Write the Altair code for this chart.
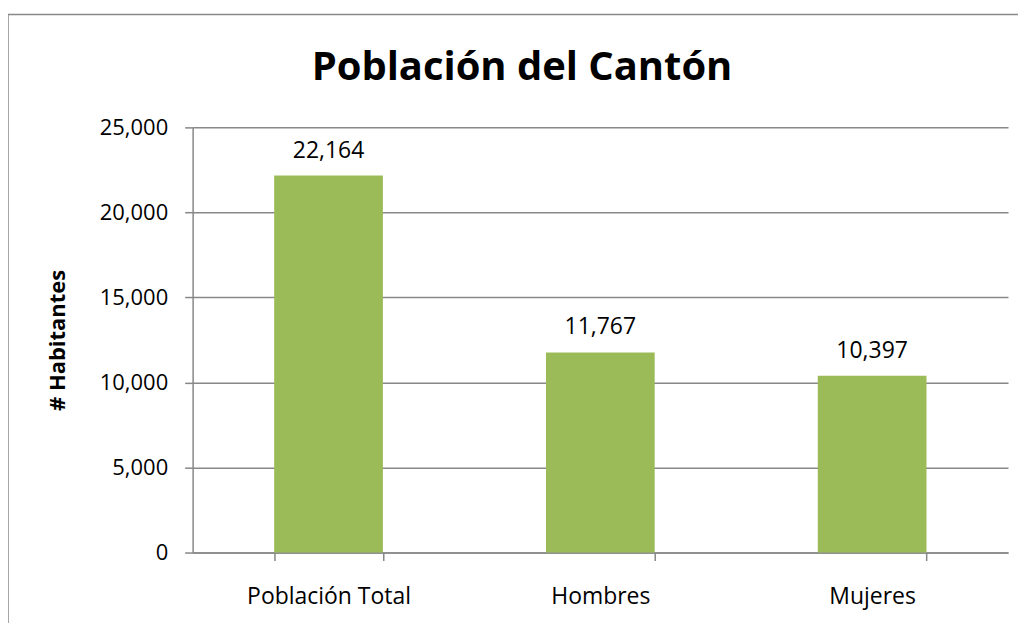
import altair as alt
import pandas as pd

categories = ["Población Total", "Hombres", "Mujeres"]
values = [22164, 11767, 10397]
y_ticks = [0, 5000, 10000, 15000, 20000, 25000]
title_text = "Población del Cantón"
y_title = "# Habitantes"

df = pd.DataFrame({"cat": categories, "val": values})

FONT = "Open Sans"
GRAY = "#888888"

base = alt.Chart(df)

x_enc = alt.X("cat:N", sort=categories, title=None,
              scale=alt.Scale(paddingInner=0.6, paddingOuter=0.3),
              axis=alt.Axis(labelAngle=0, labelFontSize=23, labelFont=FONT, labelColor="black",
                            labelPadding=25, tickBand="extent", tickSize=8, tickColor=GRAY,
                            tickWidth=1.5, domainColor=GRAY, domainWidth=1.5, grid=False))

y_enc = alt.Y("val:Q", title=y_title,
              scale=alt.Scale(domain=[0, 25000], nice=False),
              axis=alt.Axis(values=y_ticks, format=",.0f",
                            labelFontSize=22, labelFont=FONT, labelColor="black", labelPadding=17,
                            tickSize=8, tickColor=GRAY, tickWidth=1.5, domainColor=GRAY,
                            domainWidth=1.5, gridColor=GRAY, gridWidth=1.5,
                            titleFont=FONT, titleFontSize=22, titleFontWeight="bold",
                            titleColor="black", titleAngle=270, titleX=-135, titleY=213,
                            titleAlign="center", titleBaseline="middle"))

bars = base.mark_bar(color="#9BBB59").encode(x=x_enc, y=y_enc)

labels = base.mark_text(font=FONT, fontSize=23, color="black", baseline="alphabetic", dy=-18).encode(
    x=x_enc,
    y=y_enc,
    text=alt.Text("val:Q", format=","),
)

frame = alt.Chart(pd.DataFrame({"f": [0]})).mark_rect(filled=False, stroke=GRAY, strokeWidth=1.5).encode(
    x=alt.value(-185), x2=alt.value(1200), y=alt.value(-113), y2=alt.value(900)
)

title = alt.Chart(pd.DataFrame({"t": [title_text]})).mark_text(
    font=FONT, fontSize=40, fontWeight="bold", color="black", align="center", baseline="alphabetic"
).encode(text="t:N", x=alt.value(330), y=alt.value(-47))

chart = alt.layer(frame, bars, labels, title).properties(
    width=817, height=426,
    autosize=alt.AutoSizeParams(type="none"),
    padding={"left": 185, "top": 119, "right": 10, "bottom": 70},
).configure_view(stroke=None)

chart.save("out.html", embed_options={"renderer": "svg", "actions": False})
